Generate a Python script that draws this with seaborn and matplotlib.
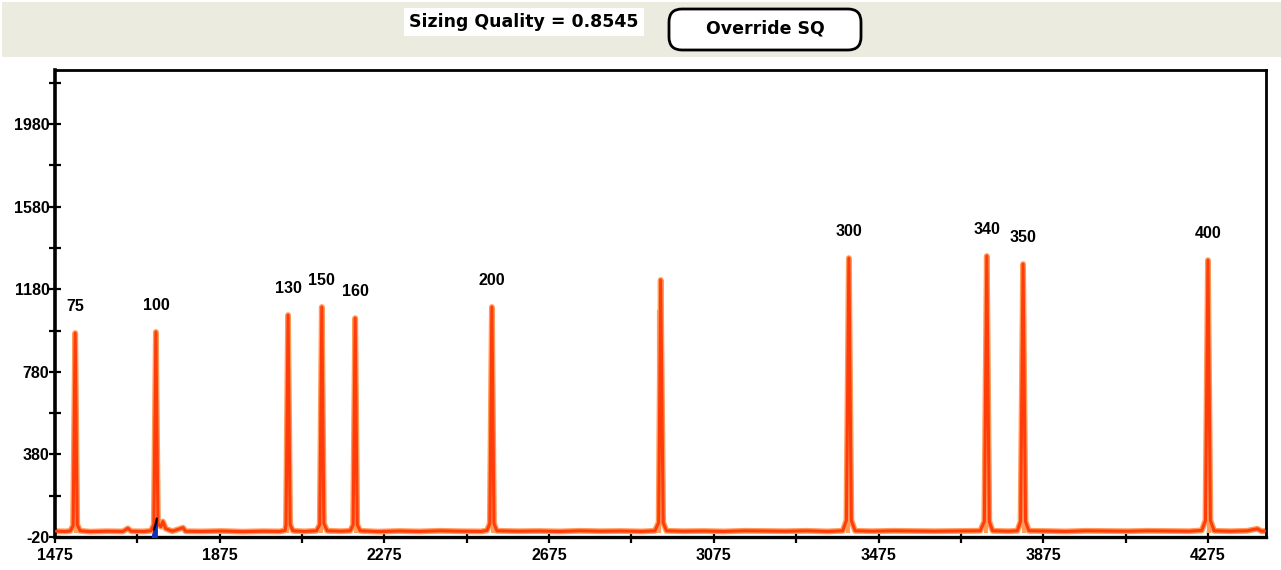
import matplotlib
matplotlib.use("Agg")
import matplotlib.pyplot as plt
import seaborn as sns
from matplotlib.patches import Rectangle, FancyBboxPatch

# size standard peaks (scan number, height in RFU)
peak_sizes = ['75', '100', '130', '150', '160', '200', '', '300', '340', '350', '400']
peak_scan = [1524, 1720, 2041, 2123, 2204, 2536, 2946, 3403, 3738, 3826, 4275]
peak_rfu = [968, 973, 1055, 1094, 1040, 1094, 1225, 1331, 1341, 1302, 1321]

# electropherogram trace
trace_scan = [1478, 1500, 1512, 1519, 1524, 1529, 1536, 1560, 1600, 1640, 1652, 1660,
              1690, 1708, 1715, 1720, 1725, 1732, 1737, 1744, 1760, 1786, 1792, 1830,
              1880, 1930, 1980, 2020, 2034, 2036, 2041, 2046, 2053, 2080, 2110, 2118,
              2123, 2128, 2136, 2170, 2192, 2199, 2204, 2209, 2216, 2260, 2310, 2360,
              2410, 2460, 2510, 2524, 2531, 2536, 2541, 2548, 2600, 2650, 2700, 2750,
              2800, 2850, 2900, 2932, 2941, 2946, 2952, 2960, 3000, 3050, 3100, 3150,
              3200, 3250, 3300, 3350, 3388, 3397, 3403, 3409, 3418, 3460, 3510, 3560,
              3610, 3660, 3712, 3722, 3732, 3738, 3744, 3752, 3790, 3812, 3820, 3826,
              3832, 3840, 3880, 3930, 3980, 4030, 4080, 4130, 4180, 4230, 4260, 4269,
              4275, 4281, 4290, 4330, 4370, 4395, 4405, 4413]
trace_rfu = [8, 7, 9, 35, 968, 40, 10, 6, 8, 7, 22, 8,
             7, 10, 40, 973, 45, 30, 55, 20, 8, 25, 8, 7,
             9, 6, 8, 7, 12, 40, 1055, 40, 10, 7, 10, 40,
             1094, 45, 10, 8, 10, 38, 1040, 40, 10, 6, 9, 7,
             10, 8, 7, 12, 45, 1094, 45, 10, 8, 9, 7, 10,
             8, 9, 7, 10, 50, 1225, 50, 10, 8, 9, 7, 10,
             9, 8, 10, 7, 10, 60, 1331, 60, 10, 8, 10, 9,
             8, 9, 10, 10, 55, 1341, 55, 10, 8, 10, 55, 1302,
             55, 10, 9, 7, 10, 9, 8, 10, 9, 8, 12, 60,
             1321, 60, 10, 8, 10, 20, 8, 9]

# lighter shoulders beside the peaks
shoulder_scan = [1527, 2038, 2120, 2207, 2539, 2943, 3400, 3735, 3829, 4278]
shoulder_rfu = [450, 470, 700, 440, 110, 1080, 1240, 780, 1055, 240]

# small blue peak under the 100 bp peak
blue_scan = [1711, 1715, 1719, 1722]
blue_rfu = [-8, 15, 40, 70]

sizing_quality = 0.8545

dark = '#ff3c0a'
light = '#ff9c5a'

sns.set_style('white')
plt.rcParams['text.color'] = 'black'
plt.rcParams['xtick.color'] = 'black'
plt.rcParams['ytick.color'] = 'black'
plt.rcParams['axes.unicode_minus'] = False

fig = plt.figure(figsize=(12.81, 5.70), dpi=100)
W, H = 1281, 570

# toolbar strip at the top
fig.patches.append(Rectangle((2 / W, 1 - 57 / H), 1 - 2 / W, 55 / H, transform=fig.transFigure,
                             facecolor='#ecebe0', edgecolor='none', zorder=0))
fig.text(524 / W, 1 - 22 / H, f'Sizing Quality = {sizing_quality}', ha='center', va='center',
         fontsize=12.5, fontweight='bold', color='black',
         bbox=dict(boxstyle='square,pad=0.3', facecolor='white', edgecolor='none'))
# button, drawn in inches so the corners stay round
fig.patches.append(FancyBboxPatch((6.69, (H - 50) / 100), 1.92, 0.41, transform=fig.dpi_scale_trans,
                                  boxstyle='round,pad=0,rounding_size=0.13', facecolor='white',
                                  edgecolor='black', linewidth=2))
fig.text(765 / W, 1 - 29 / H, 'Override SQ', ha='center', va='center', fontsize=12.5,
         fontweight='bold', color='black')

ax = fig.add_axes([55 / W, 1 - 537 / H, (1266 - 55) / W, (537 - 70) / H])

# halo, core line, shoulders
sns.lineplot(x=trace_scan, y=trace_rfu, ax=ax, color=light, linewidth=4.2,
             estimator=None, sort=False, zorder=2)
ax.vlines(shoulder_scan, 0, shoulder_rfu, color=light, linewidth=3, zorder=3)
sns.lineplot(x=trace_scan, y=trace_rfu, ax=ax, color=dark, linewidth=2.2,
             estimator=None, sort=False, zorder=4)
ax.fill_between(blue_scan, -20, blue_rfu, color='#1030c0', zorder=5)
ax.plot(blue_scan[1:], blue_rfu[1:], color='black', linewidth=1.5, zorder=6)

for lab, x, y in zip(peak_sizes, peak_scan, peak_rfu):
    if lab:
        ax.annotate(lab, (x, y), xytext=(0, 19), textcoords='offset points', ha='center',
                    va='center', fontsize=11.5, fontweight='bold', color='black',
                    family='Liberation Sans')

ax.set_xlim(1475, 4416)
ax.set_ylim(-20, 2242)
ax.set_xticks([1475 + 400 * i for i in range(8)])
ax.set_xticks([1675 + 400 * i for i in range(7)], minor=True)
ax.set_yticks([-20 + 400 * i for i in range(6)])
ax.set_yticks([180 + 400 * i for i in range(6)], minor=True)
ax.tick_params(which='both', bottom=True, left=True, top=False, right=False,
               direction='inout', length=8, width=1.6, color='black', labelcolor='black')
ax.tick_params(axis='y', pad=0)
ax.tick_params(axis='x', pad=4)
for t in ax.get_xticklabels() + ax.get_yticklabels():
    t.set_fontweight('bold')
    t.set_fontsize(11.5)
    t.set_family('Liberation Sans')
for s in ax.spines.values():
    s.set_color('black')
    s.set_linewidth(2)
ax.spines['left'].set_linewidth(2.6)
ax.spines['bottom'].set_linewidth(2.4)
ax.set_xlabel('')
ax.set_ylabel('')

fig.savefig('out.png', dpi=100)
